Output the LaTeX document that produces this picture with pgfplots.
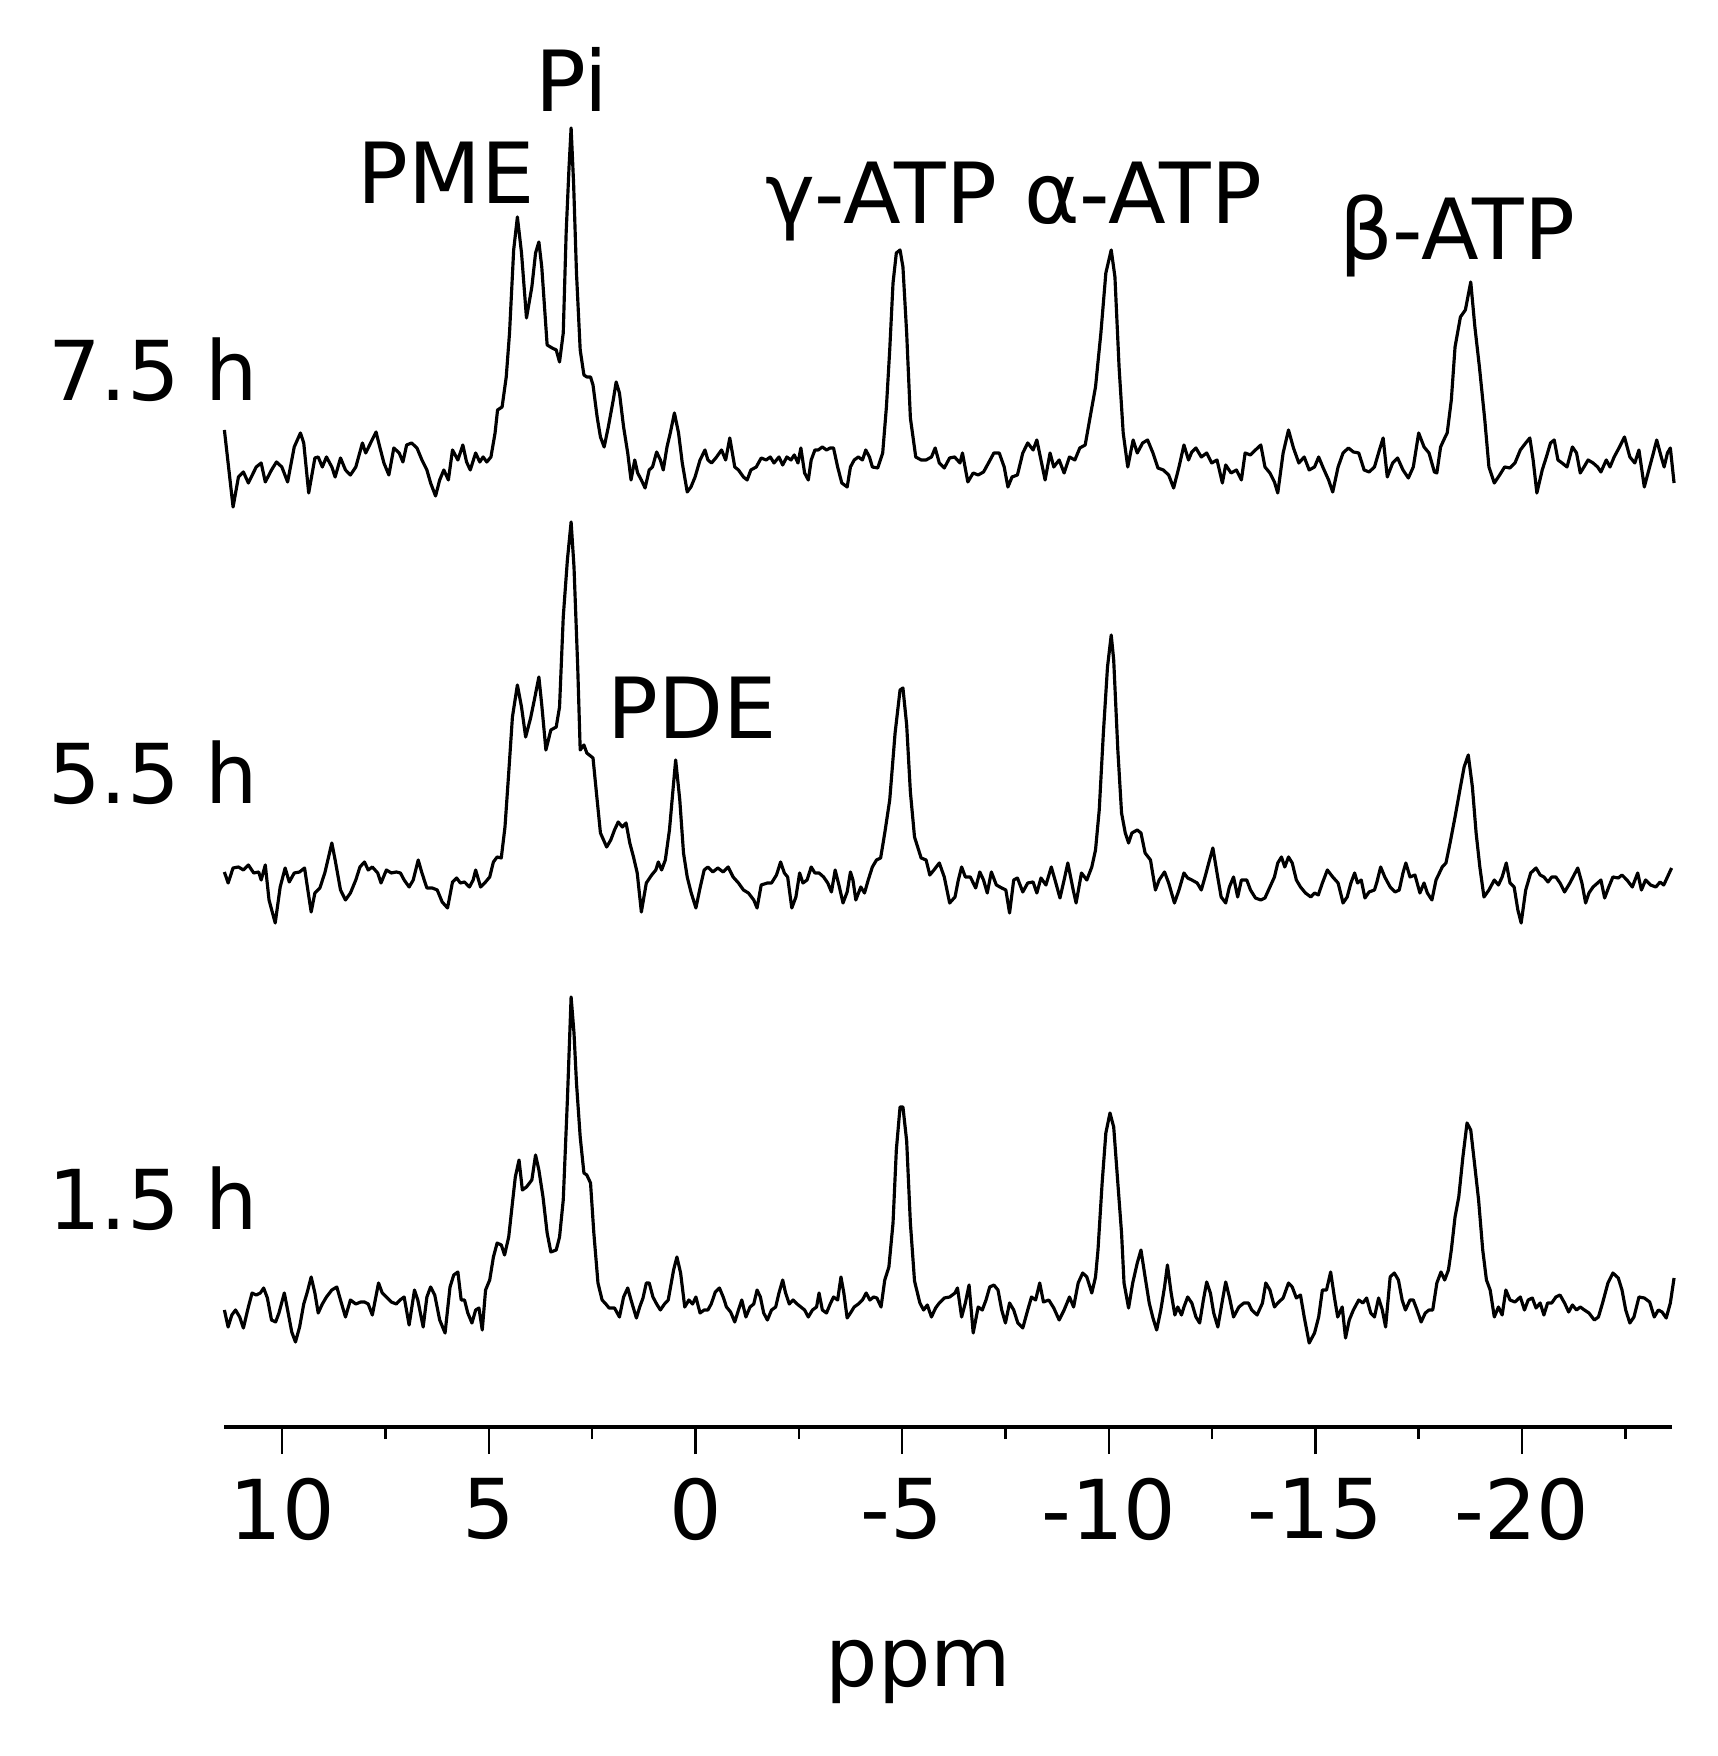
\documentclass[border=0pt]{standalone}
\usepackage{fontspec}
\setmainfont{DejaVu Sans}
\usepackage{pgfplots}
\usepackage{pgfplotstable}
\pgfplotsset{compat=1.18}

% stacked 31P spectra; I = intensity above each trace's own baseline
\pgfplotstableread{
ppm I
11.40 33
11.19 -44
11.06 -14
10.94 -9
10.82 -20
10.63 -4
10.51 0
10.41 -19
10.26 -7
10.14 1
10.01 -4
9.87 -19
9.71 16
9.56 30
9.48 20
9.36 -30
9.21 5
9.13 6
9.03 -4
8.93 6
8.80 -4
8.72 -14
8.59 5
8.47 -7
8.35 -12
8.22 -4
8.06 20
7.98 10
7.85 21
7.73 31
7.64 16
7.54 0
7.42 -12
7.30 15
7.17 10
7.08 1
6.99 18
6.87 20
6.74 15
6.62 3
6.50 -7
6.41 -20
6.29 -33
6.19 -17
6.09 -7
5.98 -17
5.88 13
5.75 3
5.63 18
5.54 1
5.45 -7
5.32 10
5.22 1
5.14 6
5.05 1
4.95 6
4.85 30
4.79 53
4.68 56
4.58 86
4.50 130
4.40 213
4.31 246
4.21 210
4.09 145
3.96 176
3.87 210
3.79 221
3.72 196
3.59 118
3.47 115
3.37 113
3.29 101
3.20 130
3.13 230
3.06 296
3.01 335
2.95 280
2.88 190
2.79 113
2.70 88
2.63 86
2.54 86
2.48 78
2.38 46
2.30 26
2.21 16
2.11 36
1.99 63
1.92 81
1.84 70
1.74 36
1.64 10
1.56 -17
1.47 3
1.40 -10
1.31 -17
1.22 -25
1.12 -7
1.04 -4
0.94 11
0.85 3
0.78 -7
0.69 16
0.61 30
0.51 50
0.41 30
0.32 0
0.20 -29
0.11 -24
0.01 -14
-0.11 3
-0.23 13
-0.30 3
-0.39 0
-0.51 6
-0.63 13
-0.73 3
-0.83 25
-0.95 -4
-1.04 -7
-1.16 -14
-1.25 -17
-1.34 -7
-1.47 -4
-1.59 5
-1.71 3
-1.81 6
-1.90 0
-2.02 6
-2.11 -2
-2.21 6
-2.31 3
-2.39 8
-2.48 0
-2.55 15
-2.64 -10
-2.73 -17
-2.80 3
-2.89 13
-2.97 13
-3.07 16
-3.17 13
-3.26 15
-3.34 15
-3.44 -4
-3.54 -20
-3.67 -24
-3.75 -4
-3.84 3
-3.94 6
-4.04 3
-4.12 13
-4.21 6
-4.28 -4
-4.41 -5
-4.53 10
-4.62 56
-4.70 113
-4.78 180
-4.86 210
-4.95 213
-5.02 196
-5.11 130
-5.20 45
-5.33 6
-5.46 3
-5.58 3
-5.71 6
-5.80 15
-5.90 0
-6.02 -5
-6.15 5
-6.27 6
-6.40 0
-6.46 10
-6.59 -19
-6.72 -10
-6.84 -12
-6.97 -9
-7.09 0
-7.22 10
-7.35 10
-7.47 -4
-7.56 -24
-7.66 -14
-7.79 -12
-7.92 10
-8.04 20
-8.17 13
-8.26 23
-8.36 3
-8.46 -17
-8.58 10
-8.67 -4
-8.80 3
-8.92 -10
-9.05 6
-9.18 3
-9.30 15
-9.43 18
-9.55 46
-9.68 76
-9.81 130
-9.93 190
-10.06 213
-10.15 186
-10.25 96
-10.35 30
-10.46 -4
-10.59 23
-10.69 10
-10.82 20
-10.94 23
-11.07 10
-11.19 -5
-11.32 -7
-11.45 -12
-11.57 -25
-11.70 -4
-11.82 18
-11.93 3
-12.01 11
-12.11 15
-12.24 6
-12.37 10
-12.49 0
-12.62 3
-12.75 -20
-12.83 -2
-12.96 -10
-13.09 -7
-13.21 -17
-13.30 10
-13.43 8
-13.55 13
-13.68 18
-13.78 -4
-13.90 -10
-14.01 -19
-14.09 -30
-14.22 10
-14.35 33
-14.47 15
-14.60 0
-14.73 6
-14.85 -7
-14.98 -4
-15.08 6
-15.19 -5
-15.32 -17
-15.42 -29
-15.55 -4
-15.67 10
-15.80 15
-15.92 11
-16.05 10
-16.18 -7
-16.30 -9
-16.43 -4
-16.55 13
-16.64 25
-16.74 -14
-16.87 0
-16.99 5
-17.12 -7
-17.25 -15
-17.37 -4
-17.50 30
-17.63 16
-17.75 10
-17.88 -9
-17.94 -10
-18.03 16
-18.13 25
-18.19 30
-18.29 63
-18.38 116
-18.51 146
-18.63 153
-18.76 181
-18.86 136
-18.97 96
-19.10 43
-19.20 -4
-19.33 -20
-19.46 -12
-19.58 -4
-19.71 -5
-19.83 0
-19.96 13
-20.09 20
-20.19 25
-20.27 3
-20.36 -30
-20.49 -7
-20.59 6
-20.69 20
-20.78 23
-20.87 3
-20.97 0
-21.09 -4
-21.22 16
-21.32 10
-21.41 -10
-21.50 -4
-21.60 3
-21.72 0
-21.83 -4
-21.91 -9
-22.04 3
-22.13 -4
-22.23 6
-22.36 16
-22.48 26
-22.61 6
-22.73 0
-22.83 13
-22.96 -24
-23.05 -10
-23.18 10
-23.26 23
-23.37 6
-23.44 -4
-23.52 10
-23.59 15
-23.68 -20
}\sevenhalf

\pgfplotstableread{
ppm I
11.40 -2
11.31 -13
11.19 2
11.06 3
10.94 0
10.82 5
10.69 -3
10.57 -2
10.51 -10
10.41 5
10.32 -30
10.17 -53
10.05 -17
9.93 2
9.83 -12
9.71 -3
9.58 -2
9.46 2
9.37 -23
9.30 -42
9.21 -23
9.09 -18
8.97 -3
8.80 27
8.72 10
8.59 -20
8.47 -30
8.35 -23
8.22 -10
8.12 3
8.01 8
7.92 0
7.82 3
7.69 -3
7.61 -13
7.48 0
7.36 -3
7.24 -2
7.14 -3
7.05 -10
6.93 -17
6.83 -10
6.71 10
6.62 -3
6.50 -18
6.37 -18
6.25 -20
6.13 -32
6.00 -38
5.88 -12
5.78 -8
5.69 -13
5.59 -12
5.47 -17
5.38 -10
5.32 0
5.20 -17
5.08 -12
4.98 -7
4.89 8
4.80 13
4.70 12
4.61 43
4.52 97
4.43 153
4.31 185
4.21 163
4.11 133
3.99 152
3.90 170
3.79 193
3.72 165
3.62 120
3.50 140
3.37 143
3.29 163
3.20 253
3.10 310
3.01 348
2.94 303
2.85 203
2.79 120
2.70 125
2.63 117
2.48 112
2.38 70
2.30 37
2.15 23
2.05 30
1.96 40
1.87 48
1.77 43
1.68 47
1.59 27
1.50 13
1.41 -3
1.31 -42
1.19 -13
1.06 -5
0.96 0
0.90 8
0.82 0
0.73 10
0.63 40
0.53 87
0.48 110
0.38 70
0.29 17
0.20 -7
0.11 -22
-0.01 -38
-0.11 -18
-0.21 0
-0.30 3
-0.42 -2
-0.54 2
-0.67 -2
-0.79 3
-0.91 -7
-1.04 -13
-1.16 -20
-1.28 -23
-1.41 -30
-1.49 -38
-1.59 -15
-1.74 -13
-1.84 -13
-1.96 -5
-2.06 8
-2.15 -3
-2.23 -7
-2.33 -38
-2.43 -27
-2.52 -3
-2.60 -13
-2.70 -10
-2.80 3
-2.89 -3
-2.99 -3
-3.10 -7
-3.20 -13
-3.29 -22
-3.38 0
-3.47 -15
-3.57 -33
-3.67 -22
-3.75 -2
-3.81 -10
-3.88 -30
-4.00 -17
-4.09 -23
-4.18 -10
-4.28 3
-4.38 10
-4.48 12
-4.58 37
-4.70 70
-4.83 137
-4.95 180
-5.02 182
-5.11 145
-5.20 78
-5.30 33
-5.46 12
-5.58 10
-5.67 -5
-5.77 0
-5.90 7
-6.02 -7
-6.15 -33
-6.28 -27
-6.36 -10
-6.44 3
-6.53 -7
-6.65 -7
-6.78 -18
-6.88 -2
-6.97 -10
-7.06 -23
-7.16 -2
-7.28 -15
-7.41 -18
-7.51 -20
-7.60 -43
-7.70 -10
-7.79 -8
-7.92 -22
-8.04 -13
-8.17 -12
-8.26 -23
-8.36 -8
-8.48 -15
-8.61 3
-8.70 -10
-8.82 -28
-8.92 -10
-9.01 7
-9.14 -20
-9.21 -33
-9.34 -3
-9.47 -10
-9.59 3
-9.68 20
-9.77 60
-9.87 137
-9.97 203
-10.06 235
-10.12 210
-10.22 120
-10.31 57
-10.40 37
-10.48 27
-10.56 37
-10.69 40
-10.78 37
-10.88 17
-11.01 10
-11.13 -20
-11.22 -10
-11.35 -2
-11.45 -13
-11.59 -33
-11.70 -20
-11.82 -3
-11.91 -8
-12.01 -10
-12.14 -13
-12.24 -20
-12.33 -7
-12.42 7
-12.52 22
-12.62 -3
-12.72 -27
-12.83 -33
-12.92 -17
-13.02 -7
-13.12 -27
-13.21 -10
-13.34 -10
-13.43 -20
-13.55 -28
-13.68 -30
-13.78 -28
-13.90 -17
-14.01 -7
-14.09 7
-14.18 13
-14.26 3
-14.35 13
-14.44 7
-14.54 -10
-14.64 -17
-14.76 -23
-14.89 -27
-14.98 -23
-15.07 -25
-15.17 -13
-15.29 0
-15.42 -7
-15.55 -13
-15.67 -33
-15.77 -27
-15.86 -13
-15.95 -3
-16.02 -13
-16.11 -10
-16.20 -28
-16.30 -22
-16.43 -20
-16.49 -12
-16.58 3
-16.68 -7
-16.81 -17
-16.93 -22
-17.03 -20
-17.12 -3
-17.19 7
-17.29 -7
-17.41 -5
-17.53 -23
-17.63 -13
-17.71 -23
-17.82 -30
-17.92 -10
-18.07 3
-18.16 7
-18.26 27
-18.38 53
-18.51 83
-18.60 103
-18.70 115
-18.80 83
-18.89 37
-18.98 3
-19.08 -27
-19.20 -20
-19.33 -10
-19.43 -15
-19.52 -7
-19.62 7
-19.71 -13
-19.81 -17
-19.90 -40
-19.98 -53
-20.09 -20
-20.21 -3
-20.34 2
-20.44 -5
-20.53 -7
-20.63 -12
-20.72 -7
-20.82 -7
-20.92 -13
-21.03 -22
-21.16 -13
-21.26 -5
-21.35 2
-21.45 -13
-21.54 -33
-21.62 -23
-21.72 -17
-21.83 -13
-21.91 -10
-22.00 -28
-22.10 -17
-22.20 -7
-22.33 -8
-22.42 -5
-22.54 -10
-22.67 -17
-22.80 -3
-22.89 -20
-22.99 -10
-23.11 -15
-23.24 -17
-23.34 -12
-23.43 -15
-23.52 -7
-23.62 2
}\fivehalf

\pgfplotstableread{
ppm I
11.40 -7
11.31 -24
11.22 -12
11.13 -7
11.03 -14
10.94 -25
10.82 -4
10.73 10
10.63 8
10.53 10
10.45 15
10.36 5
10.26 -17
10.16 -19
10.08 -10
9.95 10
9.87 -7
9.77 -29
9.68 -39
9.58 -24
9.48 -1
9.40 10
9.30 26
9.21 10
9.13 -10
9.03 -1
8.93 6
8.80 13
8.68 16
8.59 3
8.47 -14
8.35 3
8.22 -1
8.10 1
8.01 1
7.92 -1
7.82 -12
7.67 20
7.58 10
7.48 6
7.36 1
7.24 -1
7.15 3
7.05 6
6.93 -22
6.80 13
6.72 3
6.59 -24
6.50 6
6.41 16
6.31 8
6.19 -17
6.06 -30
5.94 16
5.85 28
5.75 31
5.67 3
5.59 3
5.51 -10
5.41 -20
5.32 -7
5.24 -5
5.16 -27
5.08 13
4.98 23
4.89 46
4.80 60
4.70 58
4.62 48
4.52 66
4.43 100
4.36 126
4.27 143
4.19 113
4.09 116
3.96 123
3.87 148
3.79 133
3.69 106
3.59 70
3.50 51
3.37 53
3.29 66
3.20 103
3.10 203
3.01 306
2.94 270
2.88 220
2.79 166
2.70 130
2.63 128
2.54 120
2.46 70
2.36 20
2.26 3
2.17 -1
2.09 -5
1.96 -5
1.84 -14
1.74 6
1.64 15
1.56 3
1.43 -15
1.35 -4
1.27 5
1.19 20
1.12 20
1.03 6
0.94 -1
0.85 -7
0.75 -1
0.66 3
0.53 33
0.45 46
0.36 30
0.26 -4
0.16 3
0.07 -1
-0.01 6
-0.11 -10
-0.21 -7
-0.30 -7
-0.38 -1
-0.48 11
-0.58 15
-0.67 6
-0.75 -4
-0.85 -9
-0.95 -19
-1.04 -7
-1.12 3
-1.22 -14
-1.32 -4
-1.41 -1
-1.49 13
-1.57 6
-1.65 -10
-1.74 -17
-1.84 -7
-1.94 -4
-2.02 10
-2.11 23
-2.18 10
-2.27 -1
-2.36 3
-2.46 -1
-2.55 -4
-2.64 -7
-2.73 -14
-2.83 -7
-2.93 -4
-2.99 10
-3.07 -7
-3.17 -10
-3.26 -1
-3.34 6
-3.44 3
-3.52 26
-3.59 10
-3.67 -15
-3.75 -10
-3.84 -4
-3.94 -1
-4.04 3
-4.13 10
-4.22 3
-4.31 6
-4.39 5
-4.49 -4
-4.58 23
-4.68 36
-4.78 80
-4.86 153
-4.95 196
-5.02 196
-5.11 162
-5.20 80
-5.30 22
-5.43 0
-5.52 -7
-5.61 -2
-5.71 -14
-5.81 -5
-5.90 0
-6.02 5
-6.15 6
-6.28 10
-6.34 15
-6.44 -14
-6.53 0
-6.62 18
-6.72 -30
-6.84 -4
-6.94 -7
-7.03 3
-7.12 16
-7.22 18
-7.32 13
-7.41 -7
-7.50 -20
-7.60 0
-7.70 -7
-7.80 -20
-7.92 -25
-8.04 -7
-8.13 6
-8.23 3
-8.33 20
-8.42 1
-8.55 3
-8.67 -5
-8.80 -17
-8.92 -7
-9.05 6
-9.15 -4
-9.26 20
-9.37 30
-9.47 26
-9.59 10
-9.68 26
-9.74 53
-9.84 120
-9.93 170
-10.03 190
-10.12 176
-10.22 120
-10.31 70
-10.37 20
-10.48 -5
-10.58 20
-10.69 40
-10.78 53
-10.88 26
-10.98 0
-11.07 -15
-11.16 -27
-11.26 -7
-11.35 16
-11.42 38
-11.51 10
-11.60 -12
-11.67 -4
-11.76 -12
-11.82 -4
-11.91 6
-12.01 0
-12.11 -14
-12.20 -20
-12.29 3
-12.37 21
-12.46 10
-12.54 -10
-12.64 -24
-12.74 0
-12.83 21
-12.92 6
-13.02 -14
-13.15 -4
-13.27 0
-13.38 0
-13.46 -7
-13.59 -12
-13.72 0
-13.80 20
-13.90 13
-14.01 -4
-14.09 0
-14.22 5
-14.35 20
-14.44 16
-14.54 5
-14.64 8
-14.73 -14
-14.85 -40
-14.98 -30
-15.08 -14
-15.17 13
-15.27 13
-15.37 31
-15.46 6
-15.54 -14
-15.65 -4
-15.73 -35
-15.82 -17
-15.92 -7
-16.05 3
-16.15 0
-16.24 5
-16.34 -10
-16.43 -14
-16.53 5
-16.62 -7
-16.70 -24
-16.81 26
-16.91 30
-17.01 23
-17.10 3
-17.18 -7
-17.29 3
-17.37 3
-17.46 -7
-17.56 -19
-17.66 -10
-17.75 -7
-17.84 -7
-17.94 20
-18.04 31
-18.13 23
-18.22 33
-18.29 53
-18.38 86
-18.47 106
-18.57 146
-18.67 180
-18.76 173
-18.85 140
-18.95 103
-19.05 53
-19.14 23
-19.23 13
-19.33 -14
-19.43 -4
-19.52 -12
-19.61 13
-19.71 3
-19.83 1
-19.96 6
-20.06 -7
-20.15 3
-20.25 5
-20.34 -5
-20.44 0
-20.53 -12
-20.62 0
-20.72 0
-20.82 6
-20.92 8
-21.03 0
-21.13 -9
-21.22 -2
-21.32 -7
-21.41 -4
-21.51 -7
-21.62 -10
-21.75 -17
-21.85 -14
-21.95 0
-22.08 20
-22.20 30
-22.33 25
-22.42 13
-22.51 -7
-22.61 -20
-22.71 -14
-22.83 6
-22.96 5
-23.09 1
-23.20 -14
-23.30 -7
-23.39 -9
-23.49 -15
-23.59 0
-23.68 25
}\onehalf

\begin{document}
\begin{tikzpicture}[
  trace/.style={black, line width=0.9pt, line join=round},
  lbl/.style={font=\fontsize{24}{28}\selectfont, anchor=base, inner sep=0pt},
  lblb/.style={font=\fontsize{23.5}{28}\selectfont, anchor=base, inner sep=0pt},
]
\begin{axis}[
  scale only axis,
  width=14.48cm, height=14.27cm,
  xmin=-23.63, xmax=11.41, ymin=0, ymax=1427,
  x dir=reverse,
  axis x line*=bottom,
  axis y line=none,
  x axis line style={line width=1.3pt},
  xtick={10,5,0,-5,-10,-15,-20},
  xticklabels={10,5,0,-5,-10,-15,-20},
  minor xtick={7.5,2.5,-2.5,-7.5,-12.5,-17.5,-22.5},
  tick align=outside,
  major tick length=0.27cm,
  minor tick length=0.12cm,
  every tick/.append style={black, line width=0.7pt},
  xticklabel style={font=\fontsize{23.5}{28}\selectfont, yshift=-0.12cm},
  clip=false,
]
\addplot[trace] table[x=ppm, y expr=\thisrow{I}+964] {\sevenhalf};
\addplot[trace] table[x=ppm, y expr=\thisrow{I}+557] {\fivehalf};
\addplot[trace] table[x=ppm, y expr=\thisrow{I}+124] {\onehalf};

\node[lbl] at (axis cs:2.99,1315) {Pi};
\node[lbl] at (axis cs:6.04,1223) {PME};
\node[lbl] at (axis cs:-4.49,1203) {γ-ATP};
\node[lbl] at (axis cs:-10.83,1203) {α-ATP};
\node[lbl] at (axis cs:-18.43,1167) {β-ATP};
\node[lbl] at (axis cs:0.08,688) {PDE};
\node[lblb] at (axis cs:13.12,1026) {7.5 h};
\node[lblb] at (axis cs:13.12,623) {5.5 h};
\node[lblb] at (axis cs:13.12,197) {1.5 h};
\node[lblb] at (axis cs:-5.39,-259) {ppm};
\end{axis}
\pgfresetboundingbox
\path[use as bounding box] ([shift={(-2.24cm,-3.29cm)}]current axis.south west) rectangle ([shift={(14.93cm,14.27cm)}]current axis.south west);
\end{tikzpicture}
\end{document}
